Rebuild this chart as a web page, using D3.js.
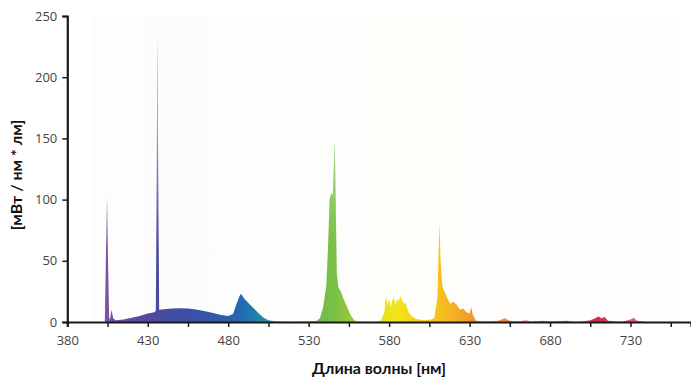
<!DOCTYPE html>
<html><head><meta charset="utf-8">
<script src="https://cdn.jsdelivr.net/npm/d3@7"></script>
<style>
html,body{margin:0;padding:0;background:#fff;}
svg{display:block;}
.tick text{font-family:"Open Sans",sans-serif;font-size:13px;fill:#444;}
.title{font-family:"Lato","Open Sans",sans-serif;font-weight:bold;font-size:16px;fill:#111;}
</style></head>
<body>
<script>
// Data
const wavelengths = [380,400,403.3,404.1,404.7,405.3,406,406.5,407.5,408.5,410,415,420,425,430,434,435.0,435.6,436,436.5,437.1,440,445,450,455,460,465,470,475,480,483,485,487,488,490,493,496,499,502,505,510,520,530,535,537,539,541,542,543,544,545,545.7,546.2,546.8,547.5,548.5,550,552,554,556,558,560,570,575,577,578,579,580,581,582,583,584,585,586,587,588,589,590,591,592,594,596,598,602,606,608,610,611.3,612,613,614,616,618,620,622,624,626,628,630,631,632,634,640,648,652,655,660,665,668,675,680,690,695,700,705,708,710,712,714,716,720,725,730,732,734,740,780];
const power = [0,0,0,60,102,50,3,2,10,3,1.5,2,3.5,5,7,8,9,120,232,120,10,10.5,11,11.2,11,10.3,9,7.5,6,5,6.5,14,21,23,19,15,11,7,3.5,1.5,0.5,0.3,0.5,1,3,12,30,60,100,105,104,130,149,100,40,28,25,18,12,6,2,0.5,0.3,1,8,21,14,19,12,18,20,14,19,17,21,18,15,16,12,8,5,3,2,1.5,2,3,20,81,50,30,26,20,15,16.5,14,10,11,8,7,12,6,1,0.5,1,3,1,0.5,1.5,0.5,1,0.5,1,0.3,0.5,1.5,3,4.5,3,4,1,0.5,0.3,2,3.5,1,0,0];
const xTicks = [380,405,430,455,480,505,530,555,580,605,630,655,680,705,730,755];
const xTickLabels = [380,430,480,530,580,630,680,730];
const yTicks = [0,50,100,150,200,250];
const colorStops = [[380,"#9a6ab5"],[400,"#8a5aa8"],[406,"#7d4f9f"],[420,"#5c4ba0"],[436,"#4c4a9e"],[450,"#3e4fa3"],[470,"#3656a8"],[485,"#2a63ae"],[490,"#1f6fb4"],[500,"#1d8aa8"],[512,"#3aa69a"],[530,"#6cbb50"],[546,"#78c043"],[560,"#a8cc3a"],[575,"#e8e020"],[585,"#f3e41a"],[595,"#f5d21a"],[610,"#f6c31e"],[620,"#f3b324"],[630,"#ef9a2a"],[650,"#f08a48"],[670,"#f07a60"],[700,"#e05070"],[710,"#cf2c4c"],[730,"#e06080"],[780,"#e880a0"]];

const W = 691, H = 380;
const x = d3.scaleLinear().domain([380, 767.6]).range([67.3, 691]);
const y = d3.scaleLinear().domain([0, 250]).range([322, 16]);

const svg = d3.select("body").append("svg").attr("width", W).attr("height", H);
const defs = svg.append("defs");

const grad = defs.append("linearGradient").attr("id","spec")
  .attr("gradientUnits","userSpaceOnUse")
  .attr("x1", x(380)).attr("x2", x(780)).attr("y1",0).attr("y2",0);
colorStops.forEach(([w,c]) => grad.append("stop")
  .attr("offset", (w-380)/400).attr("stop-color", c));

const fade = defs.append("linearGradient").attr("id","fade")
  .attr("gradientUnits","userSpaceOnUse")
  .attr("x1",0).attr("x2",0).attr("y1", y(250)).attr("y2", y(60));
fade.append("stop").attr("offset",0).attr("stop-color","#fff").attr("stop-opacity",0.85);
fade.append("stop").attr("offset",1).attr("stop-color","#fff").attr("stop-opacity",0);

// faint background wash
svg.append("rect").attr("x", x(395)).attr("y", y(250)).attr("width", x(760)-x(395))
  .attr("height", y(0)-y(250)).attr("fill","url(#spec)").attr("opacity",0.015);

const data = wavelengths.map((w,i)=>({w, v: power[i]}));
const area = d3.area().x(d=>x(d.w)).y0(y(0)).y1(d=>y(d.v)).curve(d3.curveLinear);

svg.append("path").datum(data).attr("d", area).attr("fill","url(#spec)");
svg.append("path").datum(data).attr("d", area).attr("fill","url(#fade)");

// axes
const xAxis = d3.axisBottom(x).tickValues(xTicks).tickSize(5).tickPadding(9)
  .tickFormat(d => xTickLabels.includes(d) ? d : "");
const gx = svg.append("g").attr("transform",`translate(0,${y(0)})`).call(xAxis);
gx.select(".domain").attr("stroke","#1a1a1a").attr("stroke-width",2.2);
gx.selectAll(".tick line").attr("stroke","#1a1a1a").attr("stroke-width",1.5);

const yAxis = d3.axisLeft(y).tickValues(yTicks).tickSize(5).tickPadding(5);
const gy = svg.append("g").attr("transform",`translate(${x(380)},0)`).call(yAxis);
gy.select(".domain").attr("stroke","#1a1a1a").attr("stroke-width",2.2);
gy.selectAll(".tick line").attr("stroke","#1a1a1a").attr("stroke-width",1.5);

svg.append("text").attr("class","title").attr("x",379).attr("y",374)
  .attr("text-anchor","middle").text("Длина волны [нм]");
svg.append("text").attr("class","title")
  .attr("transform","translate(22,175) rotate(-90)")
  .attr("text-anchor","middle").text("[мВт / нм * лм]");
</script>
</body></html>
